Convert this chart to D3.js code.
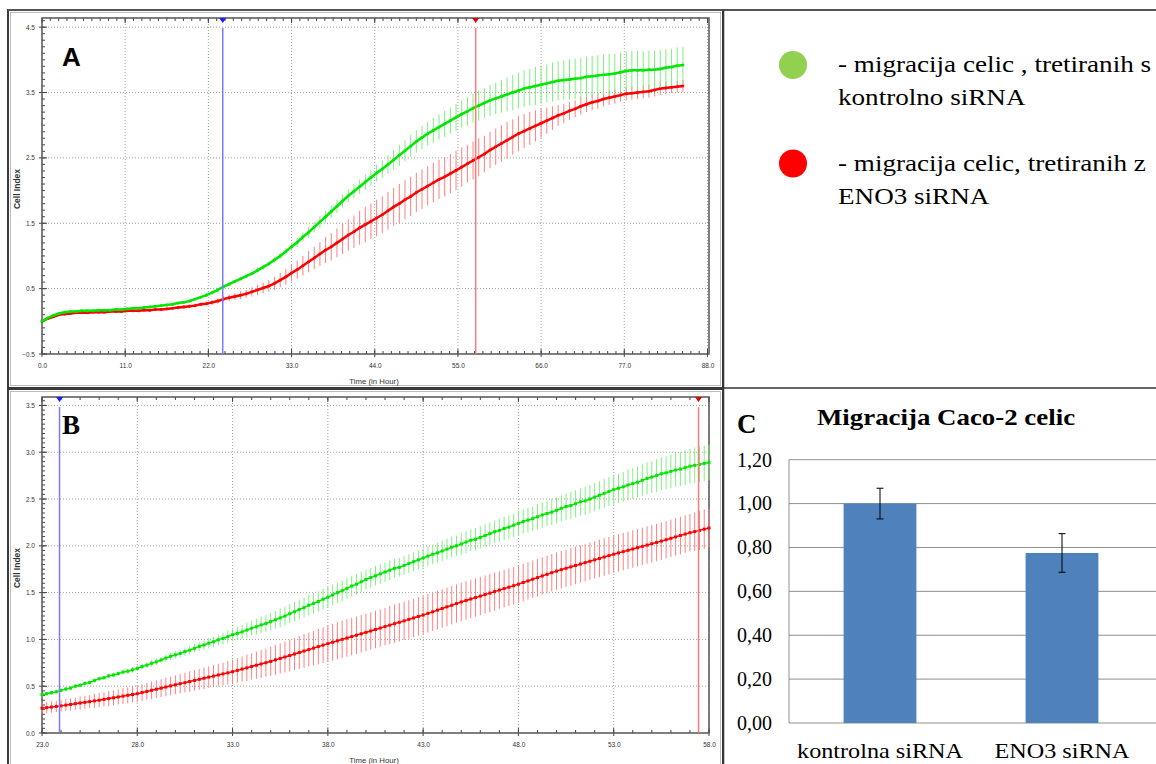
<!DOCTYPE html>
<html><head><meta charset="utf-8">
<script src="https://cdn.jsdelivr.net/npm/d3@7"></script>
<style>body{margin:0;background:#fff}svg{display:block}</style>
</head><body>
<svg id="fig" width="1156" height="764"></svg>
<script>
// ---------------- DATA ----------------
// Panel A: Cell Index, sampled every 0.75 h starting at 0 h
const A_T0 = 0, A_STEP = 0.75;
const A_control = [0.00,0.05,0.09,0.12,0.14,0.15,0.15,0.16,0.16,0.16,0.17,0.17,0.17,0.18,0.18,0.19,0.20,0.20,0.21,0.22,
0.23,0.24,0.25,0.26,0.28,0.29,0.31,0.34,0.37,0.40,0.44,0.48,
0.53,0.57,0.61,0.65,0.69,0.73,0.78,0.83,0.88,0.94,1.00,1.07,
1.14,1.21,1.29,1.36,1.44,1.52,1.60,1.68,1.76,1.84,1.92,1.99,
2.06,2.13,2.20,2.27,2.33,2.40,2.47,2.54,2.61,2.68,2.75,2.81,
2.87,2.92,2.97,3.02,3.07,3.12,3.17,3.21,3.26,3.30,3.34,3.38,
3.41,3.44,3.47,3.50,3.53,3.56,3.58,3.60,3.62,3.64,3.66,3.68,
3.69,3.70,3.71,3.72,3.74,3.75,3.76,3.77,3.78,3.79,3.81,3.83,
3.84,3.84,3.84,3.85,3.85,3.86,3.88,3.89,3.91,3.92];
const A_controlErr = [0.01,0.02,0.02,0.02,0.02,0.02,0.02,0.02,0.02,0.02,0.02,0.02,0.02,0.02,0.02,0.02,0.02,0.02,0.02,0.02,
0.02,0.02,0.02,0.02,0.02,0.02,0.02,0.02,0.02,0.03,0.03,0.03,
0.03,0.03,0.03,0.03,0.03,0.03,0.04,0.04,0.04,0.04,0.05,0.05,
0.06,0.07,0.07,0.08,0.08,0.09,0.09,0.09,0.10,0.10,0.10,0.11,
0.11,0.12,0.12,0.13,0.13,0.14,0.15,0.16,0.16,0.17,0.17,0.18,
0.18,0.19,0.19,0.20,0.20,0.21,0.21,0.22,0.22,0.23,0.23,0.24,
0.24,0.25,0.26,0.27,0.27,0.28,0.28,0.29,0.29,0.29,0.30,0.30,
0.30,0.31,0.31,0.31,0.31,0.31,0.31,0.31,0.31,0.30,0.30,0.30,
0.30,0.30,0.29,0.29,0.29,0.29,0.28,0.28,0.28,0.28];
const A_eno3 = [0.00,0.04,0.07,0.10,0.11,0.12,0.13,0.13,0.13,0.14,0.14,0.14,0.15,0.15,0.15,0.16,0.16,0.16,0.17,0.17,
0.18,0.18,0.19,0.20,0.21,0.22,0.23,0.24,0.26,0.27,0.29,0.31,
0.34,0.36,0.38,0.40,0.42,0.45,0.48,0.51,0.54,0.58,0.63,0.68,
0.74,0.79,0.85,0.91,0.97,1.03,1.09,1.14,1.20,1.26,1.32,1.37,
1.43,1.48,1.53,1.58,1.63,1.69,1.75,1.80,1.86,1.91,1.97,2.02,
2.07,2.12,2.17,2.21,2.26,2.31,2.36,2.41,2.46,2.51,2.56,2.62,
2.67,2.72,2.77,2.82,2.87,2.91,2.95,2.99,3.03,3.07,3.11,3.15,
3.18,3.22,3.25,3.29,3.32,3.35,3.37,3.40,3.42,3.44,3.46,3.48,
3.49,3.50,3.51,3.52,3.54,3.56,3.57,3.58,3.59,3.60];
const A_eno3Err = [0.01,0.02,0.02,0.02,0.02,0.02,0.02,0.02,0.02,0.02,0.02,0.02,0.02,0.02,0.02,0.02,0.02,0.02,0.02,0.02,
0.02,0.02,0.02,0.02,0.03,0.03,0.03,0.03,0.03,0.03,0.04,0.04,
0.04,0.05,0.05,0.06,0.06,0.07,0.08,0.08,0.09,0.10,0.11,0.12,
0.13,0.14,0.15,0.16,0.17,0.18,0.20,0.21,0.22,0.23,0.24,0.25,
0.26,0.27,0.27,0.28,0.28,0.29,0.29,0.30,0.30,0.30,0.30,0.30,
0.30,0.30,0.30,0.30,0.30,0.30,0.30,0.29,0.29,0.29,0.28,0.28,
0.28,0.28,0.28,0.27,0.27,0.26,0.25,0.24,0.22,0.20,0.18,0.16,
0.15,0.14,0.13,0.13,0.12,0.12,0.12,0.11,0.11,0.11,0.10,0.10,
0.10,0.10,0.10,0.10,0.10,0.10,0.10,0.09,0.09,0.09];
const A_xTicks = [0,11,22,33,44,55,66,77,88];
const A_yTicks = [-0.5,0.5,1.5,2.5,3.5,4.5];
const A_cursors = [23.9, 57.35];

// Panel B: Cell Index, sampled every 0.25 h starting at 23 h
const B_T0 = 23, B_STEP = 0.25;
const B_control = [0.41,0.42,0.43,0.44, 0.455,0.47,0.48,0.50, 0.51,0.53,0.54,0.56, 0.58,0.59,0.61,0.62,
0.635,0.65,0.66,0.675, 0.69,0.71,0.725,0.745, 0.76,0.78,0.80,0.82, 0.835,0.85,0.87,0.885,
0.905,0.925,0.94,0.96, 0.975,0.995,1.01,1.03, 1.05,1.065,1.08,1.10, 1.12,1.135,1.155,1.17,
1.19,1.21,1.23,1.25, 1.275,1.295,1.32,1.34, 1.365,1.385,1.405,1.43, 1.45,1.475,1.50,1.52,
1.545,1.57,1.59,1.615, 1.64,1.66,1.68,1.70, 1.72,1.74,1.76,1.77, 1.79,1.81,1.83,1.85,
1.87,1.89,1.91,1.925, 1.945,1.965,1.985,2.00, 2.02,2.04,2.06,2.07, 2.09,2.11,2.13,2.15,
2.165,2.185,2.20,2.22, 2.24,2.26,2.275,2.29, 2.31,2.33,2.345,2.36, 2.38,2.40,2.42,2.43,
2.45,2.47,2.48,2.50, 2.52,2.54,2.56,2.58, 2.60,2.615,2.63,2.65, 2.665,2.68,2.70,2.72,
2.735,2.75,2.77,2.78, 2.795,2.81,2.82,2.835, 2.85,2.86,2.87,2.88, 2.89];
const B_controlErr = [.02,.02,.02,.02, .02,.02,.02,.02, .02,.02,.02,.02, .02,.02,.025,.025,
.025,.025,.03,.03, .03,.03,.03,.035, .035,.035,.04,.04, .04,.04,.045,.045,
.045,.05,.05,.055, .055,.06,.06,.065, .07,.07,.075,.08, .08,.085,.09,.09,
.095,.095,.10,.10, .10,.105,.105,.105, .11,.11,.11,.11, .11,.11,.11,.11,
.11,.11,.11,.11, .105,.105,.105,.105, .105,.105,.10,.10, .10,.10,.10,.10,
.10,.105,.105,.105, .11,.11,.11,.11, .115,.115,.115,.12, .12,.12,.12,.12,
.125,.125,.125,.125, .13,.13,.13,.13, .135,.135,.135,.14, .14,.14,.14,.145,
.145,.145,.15,.15, .15,.15,.155,.155, .16,.16,.16,.165, .165,.165,.17,.17,
.17,.175,.175,.175, .18,.18,.18,.185, .185,.19,.19,.19, .19];
const B_eno3 = [.265,.271,.277,.284, .29,.298,.305,.313, .32,.328,.335,.343, .35,.359,.368,.376,
.385,.394,.403,.411, .42,.432,.444,.456, .468,.479,.491,.503, .515,.527,.538,.55,
.562,.573,.585,.597, .608,.62,.632,.643, .655,.669,.683,.696, .71,.724,.738,.751,
.765,.781,.797,.812, .828,.844,.86,.876, .891,.907,.923,.939, .955,.97,.985,1.0,
1.015,1.03,1.045,1.06, 1.075,1.09,1.106,1.121, 1.137,1.152,1.168,1.183, 1.198,1.214,1.229,1.245,
1.26,1.278,1.295,1.313, 1.33,1.348,1.365,1.383, 1.40,1.416,1.432,1.447, 1.463,1.479,1.495,1.511,
1.527,1.543,1.558,1.574, 1.59,1.608,1.625,1.643, 1.66,1.678,1.695,1.713, 1.73,1.745,1.76,1.775,
1.79,1.805,1.82,1.835, 1.85,1.865,1.88,1.895, 1.91,1.924,1.938,1.952, 1.966,1.98,1.994,2.008,
2.022,2.036,2.05,2.065, 2.08,2.095,2.11,2.125, 2.14,2.152,2.165,2.178, 2.19];
const B_eno3Err = [.06,.06,.06,.06, .06,.065,.065,.065, .07,.07,.07,.075, .075,.075,.08,.08,
.08,.085,.085,.085, .09,.09,.09,.095, .095,.095,.10,.10, .10,.105,.105,.11,
.11,.11,.115,.115, .12,.12,.12,.125, .13,.13,.135,.14, .14,.145,.15,.15,
.155,.16,.16,.165, .17,.17,.175,.18, .18,.185,.19,.19, .195,.195,.20,.20,
.20,.20,.20,.20, .20,.20,.20,.20, .20,.205,.205,.205, .205,.205,.205,.205,
.205,.205,.205,.205, .205,.205,.205,.205, .205,.205,.205,.205, .205,.205,.205,.205,
.20,.20,.20,.20, .20,.20,.20,.20, .20,.20,.20,.20, .20,.20,.20,.20,
.20,.20,.20,.20, .20,.20,.20,.20, .20,.20,.20,.20, .20,.20,.20,.20,
.20,.20,.20,.20, .20,.20,.20,.20, .20,.205,.21,.21, .21];
const B_xTicks = [23,28,33,38,43,48,53,58];
const B_yTicks = [0,0.5,1.0,1.5,2.0,2.5,3.0,3.5];
const B_cursors = [23.92, 57.45];

// Panel C: bar chart
const C_categories = ["kontrolna siRNA", "ENO3 siRNA"];
const C_values = [1.00, 0.775];
const C_errors = [0.07, 0.088];
const C_yTicks = [0, 0.2, 0.4, 0.6, 0.8, 1.0, 1.2];
const C_title = "Migracija Caco-2 celic";

// Legend
const legendColors = ["#92D050", "#FF0000"];
const legendLines = [["- migracija celic , tretiranih s", "kontrolno siRNA"],
                     ["- migracija celic, tretiranih z", "ENO3 siRNA"]];

// ---------------- DRAWING ----------------
const svg = d3.select("#fig");
const SANS = "'Liberation Sans', Arial, sans-serif";
const SERIF = "'Liberation Serif', 'Times New Roman', serif";

// frames
function frame(x, y, w, h) {
  svg.append("rect").attr("x", x).attr("y", y).attr("width", w).attr("height", h)
    .attr("fill", "#fff").attr("stroke", "#3a3a3a").attr("stroke-width", 2);
  svg.append("rect").attr("x", x + 2.5).attr("y", y + 2.5).attr("width", w - 5).attr("height", h - 5)
    .attr("fill", "none").attr("stroke", "#bdbdbd").attr("stroke-width", 1);
}
frame(8, 10, 715, 378);
frame(8, 389, 715, 390);

function rtca(cfg) {
  const g = svg.append("g");
  const x = d3.scaleLinear().domain(cfg.xDomain).range([cfg.left, cfg.right]);
  const y = d3.scaleLinear().domain(cfg.yDomain).range([cfg.bottom, cfg.top]);
  const W = cfg.right - cfg.left, H = cfg.bottom - cfg.top;
  g.append("rect").attr("x", cfg.left).attr("y", cfg.top).attr("width", W).attr("height", H).attr("fill", "#fff");
  // grid
  g.append("g").selectAll("line").data(cfg.xTicks.filter(d => d > cfg.xDomain[0])).join("line")
    .attr("x1", d => x(d)).attr("x2", d => x(d)).attr("y1", cfg.top).attr("y2", cfg.bottom)
    .attr("stroke", "#a0a0a0").attr("stroke-dasharray", "1,2");
  g.append("g").selectAll("line").data(cfg.yTicks.filter(d => d > cfg.yDomain[0])).join("line")
    .attr("x1", cfg.left).attr("x2", cfg.right).attr("y1", d => y(d)).attr("y2", d => y(d))
    .attr("stroke", "#a0a0a0").attr("stroke-dasharray", "1,2");
  // minor ticks
  const xMinor = d3.range(cfg.xDomain[0], cfg.xDomain[1] + 1e-6, cfg.xMinor);
  const yMinor = d3.range(cfg.yDomain[0], cfg.yDomain[1] + 1e-6, cfg.yMinor);
  const tk = g.append("g").attr("stroke", "#444").attr("stroke-width", 1);
  tk.selectAll(".xb").data(xMinor).join("line").attr("x1", d => x(d)).attr("x2", d => x(d))
    .attr("y1", cfg.bottom).attr("y2", cfg.bottom - 3);
  tk.selectAll(".xt").data(xMinor).join("line").attr("x1", d => x(d)).attr("x2", d => x(d))
    .attr("y1", cfg.top).attr("y2", cfg.top + 3);
  tk.selectAll(".yl").data(yMinor).join("line").attr("x1", cfg.left).attr("x2", cfg.left + 3)
    .attr("y1", d => y(d)).attr("y2", d => y(d));
  // major ticks
  tk.selectAll(".xM").data(cfg.xTicks).join("line").attr("x1", d => x(d)).attr("x2", d => x(d))
    .attr("y1", cfg.bottom + 3).attr("y2", cfg.bottom - 5);
  tk.selectAll(".xMt").data(cfg.xTicks).join("line").attr("x1", d => x(d)).attr("x2", d => x(d))
    .attr("y1", cfg.top).attr("y2", cfg.top + 5);
  tk.selectAll(".yM").data(cfg.yTicks).join("line").attr("x1", cfg.left - 3).attr("x2", cfg.left + 5)
    .attr("y1", d => y(d)).attr("y2", d => y(d));
  // border
  g.append("rect").attr("x", cfg.left).attr("y", cfg.top).attr("width", W).attr("height", H)
    .attr("fill", "none").attr("stroke", "#555").attr("stroke-width", 1.5);
  // axis labels via d3 axes
  const xa = g.append("g").attr("transform", `translate(0,${cfg.bottom})`)
    .call(d3.axisBottom(x).tickValues(cfg.xTicks).tickFormat(d3.format(".1f")).tickSize(0).tickPadding(9.5));
  const ya = g.append("g").attr("transform", `translate(${cfg.left},0)`)
    .call(d3.axisLeft(y).tickValues(cfg.yTicks).tickFormat(d3.format(".1f")).tickSize(0).tickPadding(7));
  [xa, ya].forEach(a => {
    a.select(".domain").remove();
    a.selectAll("text").attr("font-family", SANS).attr("font-size", "6.5px").attr("fill", "#333");
  });
  // series
  cfg.series.forEach(s => {
    const data = s.values.map((v, i) => ({ t: cfg.t0 + i * cfg.step, v, e: s.errors[i] }));
    g.append("g").selectAll("line").data(data).join("line")
      .attr("x1", d => x(d.t)).attr("x2", d => x(d.t))
      .attr("y1", d => y(d.v - d.e)).attr("y2", d => y(d.v + d.e))
      .attr("stroke", s.errColor).attr("stroke-width", 1);
    g.append("path").datum(data)
      .attr("d", d3.line().x(d => x(d.t)).y(d => y(d.v)))
      .attr("fill", "none").attr("stroke", s.color).attr("stroke-width", cfg.lineW);
    g.append("g").selectAll("rect").data(data).join("rect")
      .attr("x", d => x(d.t) - cfg.mk / 2).attr("y", d => y(d.v) - cfg.mk / 2)
      .attr("width", cfg.mk).attr("height", cfg.mk).attr("fill", s.color);
  });
  // cursors
  const cc = [["#7a7aff", "#1a1aff"], ["#ff7a7a", "#e00000"]];
  cfg.cursors.forEach((c, i) => {
    g.append("line").attr("x1", x(c)).attr("x2", x(c)).attr("y1", cfg.top + 10).attr("y2", cfg.bottom)
      .attr("stroke", cc[i][0]).attr("stroke-width", 1.5);
    g.append("path").attr("d", `M${x(c) - 3.5},${cfg.top} L${x(c) + 3.5},${cfg.top} L${x(c)},${cfg.top + 5} Z`)
      .attr("fill", cc[i][1]);
  });
  // titles
  g.append("text").attr("transform", `translate(${cfg.left - 22},${(cfg.top + cfg.bottom) / 2 + 3}) rotate(-90)`)
    .attr("text-anchor", "middle").attr("font-family", SANS).attr("font-weight", "bold")
    .attr("font-size", "8.5px").attr("fill", "#333").text("Cell Index");
  g.append("text").attr("x", 374).attr("y", cfg.bottom + 30)
    .attr("text-anchor", "middle").attr("font-family", SANS)
    .attr("font-size", "7.8px").attr("fill", "#333").text("Time (in Hour)");
  g.append("text").attr("x", 62).attr("y", cfg.letterY).attr("font-family", cfg.letterFont)
    .attr("font-weight", "bold").attr("font-size", cfg.letterSize).attr("fill", "#000").text(cfg.letter);
}

rtca({
  left: 42, right: 709, top: 18, bottom: 354,
  xDomain: [0, 88.2], yDomain: [-0.5, 4.64], xTicks: A_xTicks, yTicks: A_yTicks,
  xMinor: 1.1, yMinor: 0.1, t0: A_T0, step: A_STEP, lineW: 2.5, mk: 2.5,
  series: [
    { values: A_eno3, errors: A_eno3Err, color: "#ff0000", errColor: "#ff7f7f" },
    { values: A_control, errors: A_controlErr, color: "#00e600", errColor: "#7cf07c" }
  ],
  cursors: A_cursors, letter: "A", letterY: 66, letterFont: SANS, letterSize: "26px"
});
rtca({
  left: 42, right: 709, top: 397, bottom: 733,
  xDomain: [23, 58], yDomain: [0, 3.59], xTicks: B_xTicks, yTicks: B_yTicks,
  xMinor: 1, yMinor: 0.05, t0: B_T0, step: B_STEP, lineW: 1.4, mk: 3,
  series: [
    { values: B_eno3, errors: B_eno3Err, color: "#ff0000", errColor: "#ff8080" },
    { values: B_control, errors: B_controlErr, color: "#00e600", errColor: "#80f080" }
  ],
  cursors: B_cursors, letter: "B", letterY: 434, letterFont: SERIF, letterSize: "27px"
});

// right-hand separators
svg.append("line").attr("x1", 8).attr("x2", 1156).attr("y1", 10).attr("y2", 10).attr("stroke", "#555").attr("stroke-width", 2);
svg.append("line").attr("x1", 723.5).attr("x2", 723.5).attr("y1", 10).attr("y2", 764).attr("stroke", "#333").attr("stroke-width", 1.5);
svg.append("line").attr("x1", 723).attr("x2", 1156).attr("y1", 388).attr("y2", 388).attr("stroke", "#333").attr("stroke-width", 1.5);

// legend
const lg = svg.append("g");
legendLines.forEach((lines, i) => {
  const cy = 65 + i * 98.5;
  lg.append("circle").attr("cx", 793).attr("cy", cy).attr("r", 14).attr("fill", legendColors[i]);
  lines.forEach((t, j) => {
    lg.append("text").attr("transform", `translate(838,${cy + 7 + j * 33}) scale(1.13,1)`)
      .attr("font-family", SERIF).attr("font-size", "24px").attr("fill", "#000").text(t);
  });
});

// Panel C
const cg = svg.append("g");
const cx = d3.scaleBand().domain(C_categories).range([789, 1153]).paddingInner(0.6).paddingOuter(0.3);
const cy = d3.scaleLinear().domain([0, 1.2]).range([723, 459.7]);
cg.append("g").selectAll("line").data(C_yTicks).join("line")
  .attr("x1", 789).attr("x2", 1156).attr("y1", d => cy(d)).attr("y2", d => cy(d))
  .attr("stroke", "#8f8f8f").attr("stroke-width", 1);
cg.append("line").attr("x1", 789).attr("x2", 789).attr("y1", cy(1.2)).attr("y2", cy(0))
  .attr("stroke", "#8f8f8f").attr("stroke-width", 1);
cg.append("g").selectAll("rect").data(C_categories).join("rect")
  .attr("x", d => cx(d)).attr("width", cx.bandwidth())
  .attr("y", (d, i) => cy(C_values[i])).attr("height", (d, i) => cy(0) - cy(C_values[i]))
  .attr("fill", "#4F81BD");
const eb = cg.append("g").attr("stroke", "#000").attr("stroke-width", 1);
C_categories.forEach((c, i) => {
  const xc = cx(c) + cx.bandwidth() / 2;
  const y1 = cy(C_values[i] + C_errors[i]), y2 = cy(C_values[i] - C_errors[i]);
  eb.append("line").attr("x1", xc).attr("x2", xc).attr("y1", y1).attr("y2", y2);
  eb.append("line").attr("x1", xc - 3.5).attr("x2", xc + 3.5).attr("y1", y1).attr("y2", y1);
  eb.append("line").attr("x1", xc - 3.5).attr("x2", xc + 3.5).attr("y1", y2).attr("y2", y2);
});
const cya = cg.append("g").attr("transform", "translate(772,0)")
  .call(d3.axisLeft(cy).tickValues(C_yTicks).tickFormat(d => d3.format(".2f")(d).replace(".", ",")).tickSize(0).tickPadding(0));
cya.select(".domain").remove();
cya.selectAll("text").attr("font-family", SERIF).attr("font-size", "20px").attr("fill", "#000");
C_categories.forEach(c => {
  cg.append("text").attr("transform", `translate(${cx(c) + cx.bandwidth() / 2},758) scale(1.1,1)`)
    .attr("text-anchor", "middle").attr("font-family", SERIF).attr("font-size", "22px").attr("fill", "#000").text(c);
});
cg.append("text").attr("transform", "translate(946,425) scale(1.12,1)").attr("text-anchor", "middle")
  .attr("font-family", SERIF).attr("font-weight", "bold").attr("font-size", "24px").attr("fill", "#000").text(C_title);
cg.append("text").attr("x", 737).attr("y", 433).attr("font-family", SERIF).attr("font-weight", "bold")
  .attr("font-size", "27px").attr("fill", "#000").text("C");
</script>
</body></html>
